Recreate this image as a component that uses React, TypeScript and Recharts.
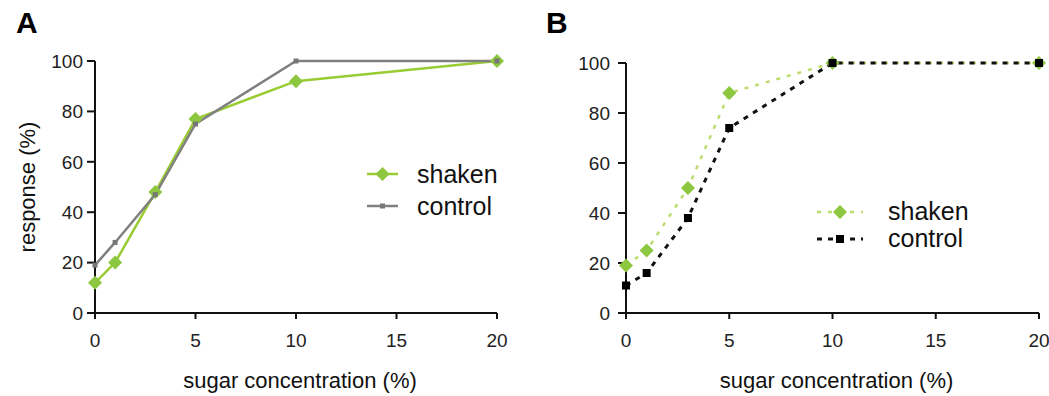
import React from "react";
import { LineChart, Line, XAxis, YAxis, Legend } from "recharts";

// sugar concentration (%) at which response was measured
const concentrations = [0, 1, 3, 5, 10, 20];
const xTicks = [0, 5, 10, 15, 20];
const yTicks = [0, 20, 40, 60, 80, 100];

// panel A
const shakenA = [12, 20, 48, 77, 92, 100];
const controlA = [19, 28, 47, 75, 100, 100];
// panel B
const shakenB = [19, 25, 50, 88, 100, 100];
const controlB = [11, 16, 38, 74, 100, 100];

const FONT = '"Liberation Sans", Arial, sans-serif';
const GREEN = "#8dc63f";

const toRows = (a: number[], b: number[]) =>
  concentrations.map((c, i) => ({ conc: c, shaken: a[i], control: b[i] }));

const diamondDot = (fill: string, r: number) => (p: any) => {
  const { cx, cy, index } = p;
  if (cx == null || cy == null) return <g key={index} />;
  return (
    <polygon
      key={index}
      points={`${cx},${cy - r} ${cx + r},${cy} ${cx},${cy + r} ${cx - r},${cy}`}
      fill={fill}
    />
  );
};

const squareDot = (fill: string, s: number) => (p: any) => {
  const { cx, cy, index } = p;
  if (cx == null || cy == null) return <g key={index} />;
  return <rect key={index} x={cx - s / 2} y={cy - s / 2} width={s} height={s} fill={fill} />;
};

interface SeriesStyle {
  key: "shaken" | "control";
  stroke: string;
  width: number;
  dash?: string;
  marker: "diamond" | "square";
  markerFill: string;
  markerSize: number;
}

interface LegendBox {
  left: number;
  top: number;
  rowH: number;
  lineW: number;
  gap: number;
}

interface PanelProps {
  letter: string;
  left: number;
  width: number;
  margin: { top: number; right: number; bottom: number; left: number };
  yTickMargin: number;
  a: number[];
  b: number[];
  series: SeriesStyle[];
  legend: LegendBox;
}

function Marker({ s, x, y }: { s: SeriesStyle; x: number; y: number }) {
  return s.marker === "diamond"
    ? diamondDot(s.markerFill, s.markerSize)({ cx: x, cy: y, index: 0 })
    : squareDot(s.markerFill, s.markerSize)({ cx: x, cy: y, index: 0 });
}

function Panel({ letter, left, width, margin, yTickMargin, a, b, series, legend }: PanelProps) {
  const data = toRows(a, b);
  const tick = { fontSize: 19, fill: "#222", fontFamily: FONT };
  const axisStroke = { stroke: "#111", strokeWidth: 2 };

  const legendContent = () => (
    <div style={{ fontFamily: FONT }}>
      {series.map((s) => (
        <div key={s.key} style={{ display: "flex", alignItems: "center", height: legend.rowH }}>
          <svg width={legend.lineW} height={16} style={{ overflow: "visible" }}>
            <line
              x1={0}
              x2={legend.lineW}
              y1={8}
              y2={8}
              stroke={s.stroke}
              strokeWidth={s.width}
              strokeDasharray={s.dash}
            />
            <Marker s={s} x={legend.lineW / 2} y={8} />
          </svg>
          <span style={{ fontSize: 25, color: "#111", marginLeft: legend.gap, lineHeight: 1 }}>{s.key}</span>
        </div>
      ))}
    </div>
  );

  return (
    <div style={{ position: "absolute", left, top: 0, width, height: 396 }}>
      <div
        style={{
          position: "absolute",
          left: 16,
          top: 8,
          fontFamily: FONT,
          fontWeight: "bold",
          fontSize: 30,
          lineHeight: 1,
          color: "#000",
        }}
      >
        {letter}
      </div>
      <LineChart width={width} height={396} data={data} margin={margin}>
        <XAxis
          dataKey="conc"
          type="number"
          domain={[0, 20]}
          ticks={xTicks}
          height={70}
          tick={tick}
          tickSize={6}
          tickMargin={15}
          axisLine={axisStroke}
          tickLine={axisStroke}
          label={(p: any) => {
            const vb = p.viewBox || {};
            return (
              <text
                x={vb.x + vb.width / 2 + 4}
                y={vb.y + 75}
                textAnchor="middle"
                fontSize={22}
                fontFamily={FONT}
                fill="#111"
              >
                sugar concentration (%)
              </text>
            );
          }}
        />
        <YAxis
          type="number"
          domain={[0, 100]}
          ticks={yTicks}
          width={60}
          tick={tick}
          tickSize={8}
          tickMargin={yTickMargin}
          axisLine={axisStroke}
          tickLine={axisStroke}
          label={
            letter === "A"
              ? (p: any) => {
                  const vb = p.viewBox || {};
                  const cx = 35;
                  const cy = vb.y + vb.height / 2;
                  return (
                    <text
                      x={cx}
                      y={cy}
                      transform={`rotate(-90 ${cx} ${cy})`}
                      textAnchor="middle"
                      fontSize={22}
                      fontFamily={FONT}
                      fill="#111"
                    >
                      response (%)
                    </text>
                  );
                }
              : undefined
          }
        />
        <Legend
          layout="vertical"
          align="center"
          verticalAlign="middle"
          content={legendContent}
          wrapperStyle={{ left: legend.left, top: legend.top, width: 200 }}
        />
        {series.map((s) => (
          <Line
            key={s.key}
            dataKey={s.key}
            type="linear"
            stroke={s.stroke}
            strokeWidth={s.width}
            strokeDasharray={s.dash}
            dot={s.marker === "diamond" ? diamondDot(s.markerFill, s.markerSize) : squareDot(s.markerFill, s.markerSize)}
            activeDot={false}
            isAnimationActive={false}
          />
        ))}
      </LineChart>
    </div>
  );
}

const seriesA: SeriesStyle[] = [
  { key: "shaken", stroke: "#99cc33", width: 2.5, marker: "diamond", markerFill: GREEN, markerSize: 7 },
  { key: "control", stroke: "#808080", width: 2.5, marker: "square", markerFill: "#777", markerSize: 5 },
];

const seriesB: SeriesStyle[] = [
  { key: "shaken", stroke: "#bcdc6e", width: 2.5, dash: "4 7", marker: "diamond", markerFill: GREEN, markerSize: 7 },
  { key: "control", stroke: "#111", width: 3, dash: "5 6", marker: "square", markerFill: "#000", markerSize: 8 },
];

export default function App() {
  return (
    <div
      style={{
        position: "absolute",
        left: 0,
        top: 0,
        width: 1049,
        height: 396,
        background: "#fff",
        overflow: "hidden",
      }}
    >
      <Panel
        letter="A"
        left={0}
        width={530}
        margin={{ top: 61, right: 33, bottom: 13, left: 35 }}
        yTickMargin={4}
        a={shakenA}
        b={controlA}
        series={seriesA}
        legend={{ left: 367, top: 158, rowH: 32, lineW: 31, gap: 19 }}
      />
      <Panel
        letter="B"
        left={530}
        width={519}
        margin={{ top: 63, right: 10, bottom: 13, left: 36 }}
        yTickMargin={8}
        a={shakenB}
        b={controlB}
        series={seriesB}
        legend={{ left: 287, top: 198, rowH: 27, lineW: 46, gap: 25 }}
      />
    </div>
  );
}
